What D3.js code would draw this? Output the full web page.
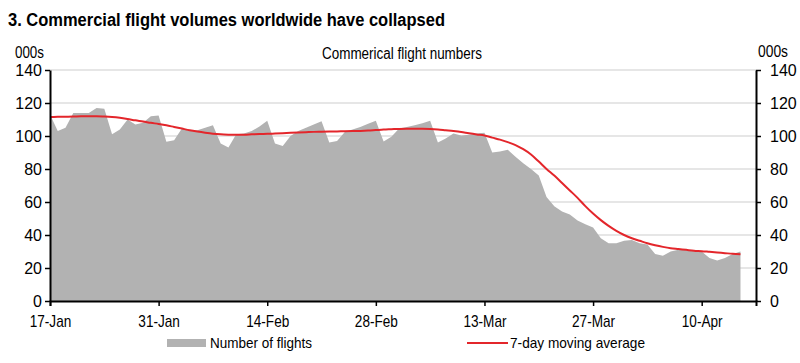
<!DOCTYPE html>
<html>
<head>
    <meta charset="utf-8">
    <style>
        body { margin: 0; background: #fff; }
        text { font-family: 'Liberation Sans', Arial, sans-serif; }
    </style>
</head>
<body>
<script src="https://cdn.jsdelivr.net/npm/d3@7"></script>
<script>
    // daily flights (000s), 17-Jan-2020 .. 15-Apr-2020
    var startDate = '2020-01-17';
    var flights = [
        113, 103, 105, 114, 114, 114, 117, 116.5, 101, 104,
        110, 107, 108, 112, 112.5, 96.5, 97.5, 104.5, 103, 103.5,
        105, 106.5, 95.5, 93, 101, 101.5, 103, 105.7, 109.3, 95.5,
        94, 100, 103, 105, 107, 109, 96, 97, 102.5, 104,
        105.5, 107.5, 109.3, 96.6, 99.5, 104.5, 105.5, 106.5, 107.7, 109.2,
        96, 98.5, 101.5, 100.3, 100.7, 101.5, 102, 90, 90.6, 91.6,
        87.5, 83.5, 80, 76, 63, 57.5, 54.3, 52.5, 48.8, 46.5,
        44.5, 38, 35, 35, 36.5, 37, 35, 34.2, 28.5, 27.5,
        30, 31, 31, 30.5, 30, 26, 24.5, 26, 28.5, 30
    ];
    var movingAvg = [
        111.5, 111.6, 111.7, 111.8, 112, 112, 112, 111.8, 111.5, 111,
        110.3, 109.5, 108.8, 108, 107.3, 106.5, 105.5, 104.5, 103.5, 102.7,
        102, 101.4, 101, 100.8, 100.7, 100.8, 101, 101.2, 101.3, 101.5,
        101.7, 101.9, 102.1, 102.3, 102.5, 102.6, 102.7, 102.8, 102.9, 103,
        103.1, 103.3, 103.6, 103.9, 104.1, 104.3, 104.4, 104.4, 104.4, 104.3,
        104, 103.5, 103, 102.4, 101.6, 100.9, 100.3, 99, 97.8, 96.3,
        94.5, 92, 88.8, 84.5, 80, 76, 71.5, 67, 62.5, 57.5,
        53, 49, 45.5, 42.5, 40, 38, 36.5, 35, 33.8, 32.8,
        32, 31.5, 31, 30.5, 30.2, 29.8, 29.4, 29, 28.6, 28.3
    ];
    var yTicks = [0, 20, 40, 60, 80, 100, 120, 140];
    var xTickLabels = ['17-Jan', '31-Jan', '14-Feb', '28-Feb', '13-Mar', '27-Mar', '10-Apr'];

    var parse = d3.timeParse('%Y-%m-%d');
    var day0 = parse(startDate);
    var dates = flights.map(function (d, i) { return d3.timeDay.offset(day0, i); });

    var width = 800, height = 363;
    var margin = {left: 50, right: 44, top: 70, bottom: 62};
    var red = '#e3262b', grey = '#b2b2b2';

    var svg = d3.select('body').append('svg')
        .attr('width', width)
        .attr('height', height);

    var x = d3.scaleTime()
        .domain([day0, d3.timeDay.offset(day0, 91)])
        .range([margin.left, width - margin.right]);
    var y = d3.scaleLinear()
        .domain([0, 140])
        .range([height - margin.bottom, margin.top]);

    // title + headers (text is condensed in the original, so fix widths)
    svg.append('text')
        .attr('x', 8).attr('y', 26)
        .attr('font-size', 18).attr('font-weight', 'bold')
        .attr('textLength', 437).attr('lengthAdjust', 'spacingAndGlyphs')
        .text('3. Commercial flight volumes worldwide have collapsed');

    svg.append('text').attr('x', 15).attr('y', 58).attr('font-size', 16)
        .attr('textLength', 29).attr('lengthAdjust', 'spacingAndGlyphs').text('000s');
    svg.append('text').attr('x', 758).attr('y', 57).attr('font-size', 16)
        .attr('textLength', 30).attr('lengthAdjust', 'spacingAndGlyphs').text('000s');
    svg.append('text').attr('x', 322).attr('y', 59).attr('font-size', 16)
        .attr('textLength', 160).attr('lengthAdjust', 'spacingAndGlyphs')
        .text('Commerical flight numbers');

    // grid
    svg.append('g').selectAll('line').data(yTicks.slice(1)).enter().append('line')
        .attr('x1', x.range()[0]).attr('x2', x.range()[1])
        .attr('y1', function (d) { return y(d); })
        .attr('y2', function (d) { return y(d); })
        .style('stroke', '#dedede').style('stroke-width', 1.5);

    var area = d3.area()
        .x(function (d, i) { return x(dates[i]); })
        .y0(y(0))
        .y1(function (d) { return y(d); });
    svg.append('path').datum(flights)
        .attr('d', area)
        .style('fill', grey);

    var line = d3.line()
        .x(function (d, i) { return x(dates[i]); })
        .y(function (d) { return y(d); })
        .curve(d3.curveMonotoneX);
    svg.append('path').datum(movingAvg)
        .attr('d', line)
        .style('fill', 'none')
        .style('stroke', red)
        .style('stroke-width', 2);

    // axes
    function styleAxis(g) {
        g.selectAll('path.domain').style('stroke', '#000').style('stroke-width', 2);
        g.selectAll('.tick line').style('stroke', '#000').style('stroke-width', 1.5);
        g.selectAll('.tick text').attr('font-size', 16).style('fill', '#000')
            .style('font-family', "'Liberation Sans', Arial, sans-serif");
    }

    var tickDates = xTickLabels.map(function (d) { return d3.timeParse('%d-%b-%Y')(d + '-2020'); });
    svg.append('g')
        .attr('transform', 'translate(0,' + y(0) + ')')
        .call(d3.axisBottom(x).tickValues(tickDates).tickSizeOuter(0).tickSize(5)
            .tickFormat(function (d, i) { return xTickLabels[i]; }))
        .call(styleAxis)
        .call(function (g) {
            g.selectAll('.tick text')
                .attr('y', 26).attr('dy', 0)
                .attr('transform', 'scale(0.85,1)');
        });

    svg.append('g')
        .attr('transform', 'translate(' + x.range()[0] + ',0)')
        .call(d3.axisLeft(y).tickValues(yTicks).tickSize(5).tickSizeOuter(0).tickPadding(3))
        .call(styleAxis);

    svg.append('g')
        .attr('transform', 'translate(' + x.range()[1] + ',0)')
        .call(d3.axisRight(y).tickValues(yTicks).tickSize(5).tickSizeOuter(0).tickPadding(9))
        .call(styleAxis);

    // legend
    var lg = svg.append('g').attr('transform', 'translate(0,343)');
    lg.append('rect').attr('x', 167).attr('y', -4).attr('width', 39).attr('height', 8)
        .style('fill', grey);
    lg.append('text').attr('x', 210).attr('y', 5).attr('font-size', 15)
        .attr('textLength', 102).attr('lengthAdjust', 'spacingAndGlyphs')
        .text('Number of flights');
    lg.append('line').attr('x1', 467).attr('x2', 508).attr('y1', 0).attr('y2', 0)
        .style('stroke', red).style('stroke-width', 2);
    lg.append('text').attr('x', 510).attr('y', 5).attr('font-size', 15)
        .attr('textLength', 135).attr('lengthAdjust', 'spacingAndGlyphs')
        .text('7-day moving average');
</script>
</body>
</html>
